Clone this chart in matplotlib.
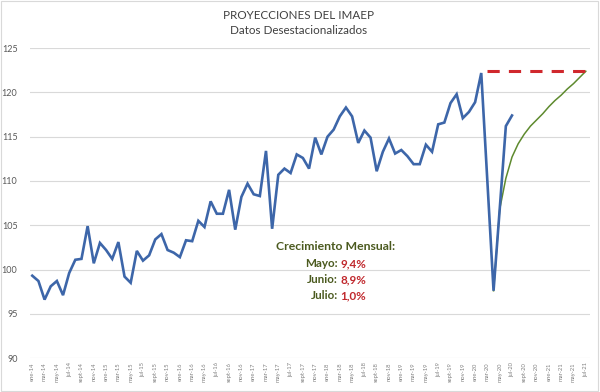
import matplotlib
matplotlib.use("Agg")
import matplotlib.pyplot as plt
from matplotlib.patches import Rectangle

# monthly index, ene-14 .. jul-20 (de-seasonalised)
imaep = [
    99.3, 98.7, 96.6, 98.1, 98.7, 97.1, 99.6, 101.1, 101.2, 104.9, 100.7, 103.0,
    102.2, 101.2, 103.1, 99.2, 98.5, 102.1, 101.0, 101.6, 103.4, 104.0, 102.2, 101.9,
    101.4, 103.3, 103.2, 105.5, 104.8, 107.7, 106.3, 106.3, 109.0, 104.5, 108.2, 109.7,
    108.5, 108.3, 113.4, 104.6, 110.7, 111.4, 110.9, 113.0, 112.6, 111.4, 114.9, 113.0,
    115.0, 115.8, 117.3, 118.3, 117.3, 114.3, 115.7, 114.9, 111.1, 113.3, 114.8, 113.1,
    113.5, 112.8, 111.9, 111.9, 114.1, 113.3, 116.4, 116.6, 118.8, 119.8, 117.1, 117.8,
    118.9, 122.2, 109.9, 97.6, 106.8, 116.2, 117.4,
]
# projection, abr-20 .. jul-21
proj_start = 75
proyeccion = [97.6, 106.8, 110.3, 112.7, 114.2, 115.3, 116.2, 116.9, 117.6, 118.4,
              119.1, 119.7, 120.4, 121.0, 121.7, 122.4]
# pre-crisis level, mar-20 .. jul-21
nivel_start = 74
nivel = 122.4
n_months = 91

meses = ["ene", "feb", "mar", "abr", "may", "jun", "jul", "ago", "sept", "oct", "nov", "dic"]
month_labels = [f"{meses[i % 12]}-{14 + i // 12}" for i in range(n_months)]

growth_labels = ["Mayo:", "Junio:", "Julio:"]
growth_values = ["9,4%", "8,9%", "1,0%"]

plt.rcParams["font.family"] = ["Lato", "DejaVu Sans"]

fig = plt.figure(figsize=(6.0, 3.92), dpi=100)
ax = fig.add_axes([0.05, 0.0867, 0.933, 0.7903])

x_imaep = list(range(len(imaep)))
x_proj = list(range(proj_start, proj_start + len(proyeccion)))
ax.plot(x_proj, proyeccion, color="#5e8a2e", lw=1.1, zorder=2)
ax.plot(x_imaep, imaep, color="#3d66a9", lw=1.9, zorder=3, solid_joinstyle="miter")
ax.plot([nivel_start, n_months - 1], [nivel, nivel], color="#d0282d", lw=2.2,
        ls=(0, (4, 3)), zorder=2)

ax.set_ylim(90, 125)
ax.set_yticks(range(90, 126, 5))
ax.set_xlim(-0.37, 90.65)
ax.set_xticks(range(0, n_months, 2))
ax.set_xticklabels(month_labels[::2], rotation=90, fontsize=4.2, color="#808080")
ax.tick_params(axis="y", labelsize=6.5, labelcolor="#595959", length=0, pad=9)
ax.tick_params(axis="x", length=0, pad=3)
ax.grid(axis="y", color="#d9d9d9", lw=0.8)
ax.set_axisbelow(True)
for spine in ax.spines.values():
    spine.set_visible(False)

fig.text(0.497, 0.96, "PROYECCIONES DEL IMAEP", ha="center", va="center",
         fontsize=8.4, color="#404040")
fig.text(0.497, 0.921, "Datos Desestacionalizados", ha="center", va="center",
         fontsize=8.4, color="#404040")

fig.text(0.56, 0.372, "Crecimiento Mensual:", ha="center", va="center",
         fontsize=8.8, fontweight="bold", color="#4b5a1f")
for k, (lab, val) in enumerate(zip(growth_labels, growth_values)):
    y = 0.328 - k * 0.041
    fig.text(0.563, y, lab, ha="right", va="center", fontsize=8.4,
             fontweight="bold", color="#4b5a1f")
    fig.text(0.567, y, val, ha="left", va="center", fontsize=8.4,
             fontweight="bold", color="#c0282d")

fig.patches.append(Rectangle((0.002, 0.003), 0.995, 0.994, transform=fig.transFigure,
                             fill=False, edgecolor="#d9d9d9", lw=0.8))

fig.savefig("out.png", dpi=100, facecolor="white")
